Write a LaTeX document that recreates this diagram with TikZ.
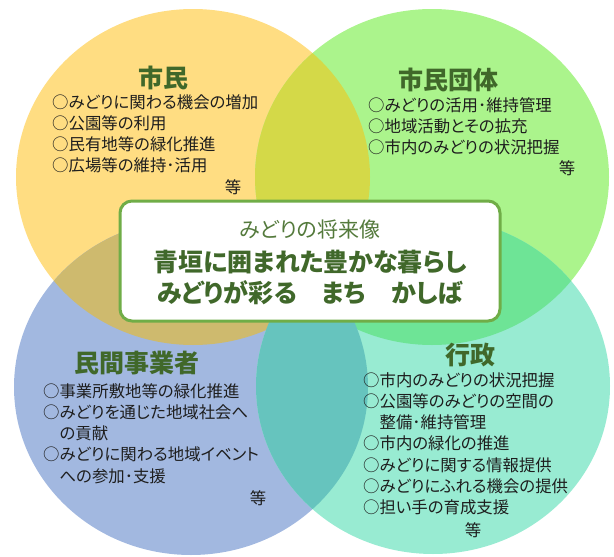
\documentclass[tikz,border=0pt]{standalone}
\usepackage{fontspec}
\setmainfont{Noto Sans CJK JP}[RawFeature=+palt]
\usetikzlibrary{positioning}
\definecolor{shiminfill}{RGB}{255,221,130}
\definecolor{dantaifill}{RGB}{171,244,140}
\definecolor{jigyofill}{RGB}{162,184,224}
\definecolor{gyoseifill}{RGB}{152,235,210}
\definecolor{sdfill}{RGB}{212,217,72}
\definecolor{sjfill}{RGB}{206,186,110}
\definecolor{dgfill}{RGB}{110,228,150}
\definecolor{jgfill}{RGB}{102,196,190}
\definecolor{boxgreen}{RGB}{112,173,71}
\definecolor{headgreen}{RGB}{64,104,42}
\definecolor{subgreen}{RGB}{84,122,60}
\definecolor{itemtext}{RGB}{30,30,30}
\tikzstyle{disc} = [x radius=177pt, y radius=168pt]
\tikzstyle{heading} = [font=\fontsize{25}{25}\selectfont\bfseries, text=headgreen, inner sep=0pt]
\tikzstyle{items} = [font=\fontsize{16.4}{21.3}\selectfont, text=itemtext, align=left, anchor=north west, inner sep=0pt]
\tikzstyle{etc} = [font=\fontsize{16.4}{16}\selectfont, text=itemtext, inner sep=0pt]
\tikzstyle{visionbox} = [rectangle, rounded corners=12pt, draw=boxgreen, line width=3pt, fill=white, minimum width=380pt, minimum height=120pt]
\tikzstyle{motto} = [font=\fontsize{25}{25}\selectfont\bfseries, text=headgreen, inner sep=0pt]
\begin{document}
\begin{tikzpicture}[x=1pt, y=-1pt]
	\useasboundingbox (0,0) rectangle (614,557);
	% circles
	\coordinate (shiminC) at (193,177);
	\coordinate (dantaiC) at (432,177);
	\coordinate (jigyoC) at (191,387);
	\coordinate (gyoseiC) at (433,386);
	\fill[disc, shiminfill] (shiminC) ellipse;
	\fill[disc, dantaifill] (dantaiC) ellipse;
	\fill[disc, jigyofill] (jigyoC) ellipse;
	\fill[disc, gyoseifill] (gyoseiC) ellipse;
	% overlaps
	\begin{scope}
		\clip[disc] (shiminC) ellipse;
		\fill[disc, sdfill] (dantaiC) ellipse;
		\fill[disc, sjfill] (jigyoC) ellipse;
	\end{scope}
	\begin{scope}
		\clip[disc] (gyoseiC) ellipse;
		\fill[disc, dgfill] (dantaiC) ellipse;
		\fill[disc, jgfill] (jigyoC) ellipse;
	\end{scope}
	
	% citizens
	\node [heading] (shimin) at (163,78) {市民};
	\node [items] (shiminList) at (52,94) {○みどりに関わる機会の増加\\○公園等の利用\\○民有地等の緑化推進\\○広場等の維持･活用};
	\node [etc] (shiminEtc) at (233,187) {等};
	
	% citizen groups
	\node [heading] (dantai) at (448,80) {市民団体};
	\node [items] (dantaiList) at (368,97) {○みどりの活用･維持管理\\○地域活動とその拡充\\○市内のみどりの状況把握};
	\node [etc] (dantaiEtc) at (567,168) {等};
	
	% businesses
	\node [heading] (jigyo) at (137,363) {民間事業者};
	\node [items] (jigyoList) at (43,383) {○事業所敷地等の緑化推進\\○みどりを通じた地域社会へ\\\hphantom{○}の貢献\\○みどりに関わる地域イベント\\\hphantom{○}への参加･支援};
	\node [etc] (jigyoEtc) at (258,498) {等};
	
	% city
	\node [heading] (gyosei) at (470,355) {行政};
	\node [items] (gyoseiList) at (363,372) {○市内のみどりの状況把握\\○公園等のみどりの空間の\\\hphantom{○}整備･維持管理\\○市内の緑化の推進\\○みどりに関する情報提供\\○みどりにふれる機会の提供\\○担い手の育成支援};
	\node [etc] (gyoseiEtc) at (473,530) {等};
	
	% vision
	\node [visionbox] (vision) at (310,261) {};
	\node [font=\fontsize{21}{21}\selectfont, text=subgreen, inner sep=0pt] (future) at (310,230) {みどりの将来像};
	\node [motto] (motto1) at (310,262) {青垣に囲まれた豊かな暮らし};
	\node [motto] (motto2) at (310,293) {みどりが彩る　まち　かしば};
\end{tikzpicture}
\end{document}
